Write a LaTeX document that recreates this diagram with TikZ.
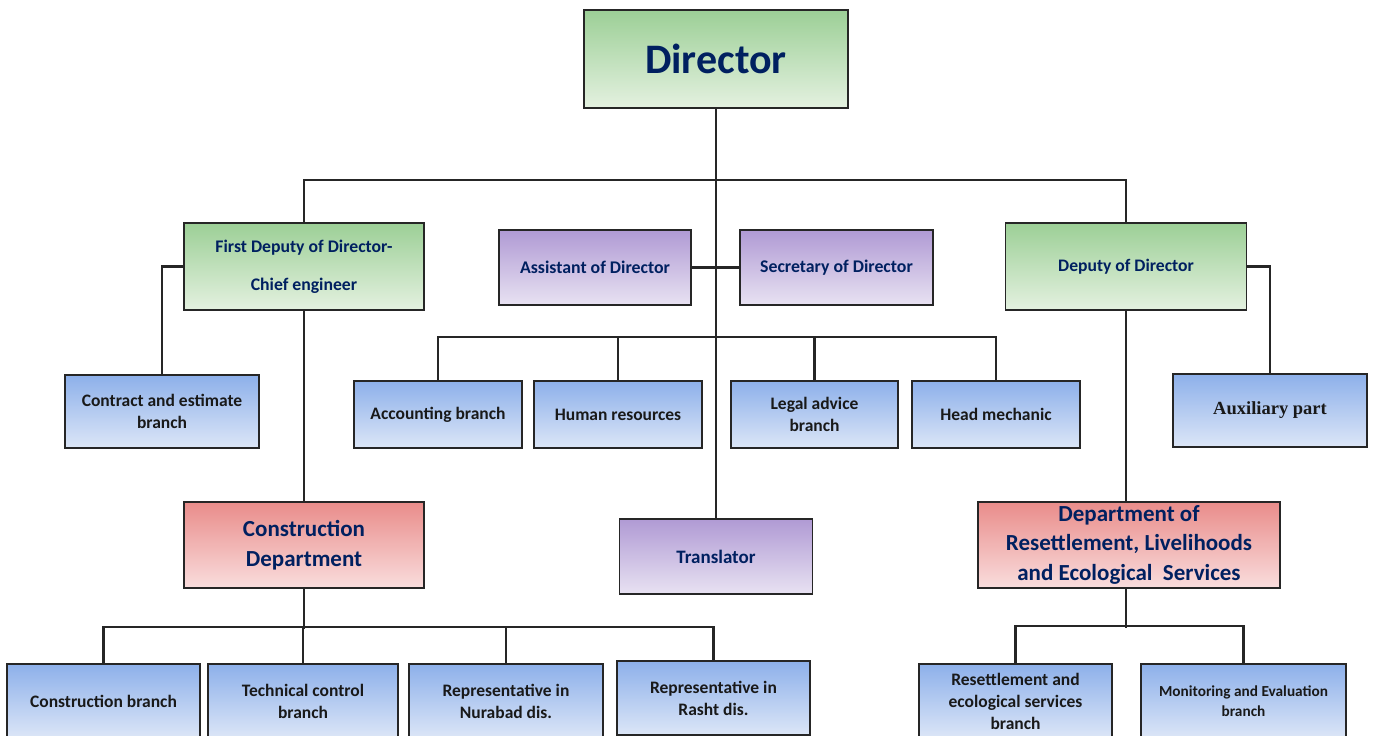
\documentclass[tikz,border=0pt]{standalone}
\usepackage{fontspec}
\setmainfont{Carlito}
\newfontfamily\auxfont{Liberation Serif}

\definecolor{navy}{HTML}{002060}
\definecolor{greentop}{HTML}{9CCF96}
\definecolor{greenbot}{HTML}{E4F1E0}
\definecolor{purpletop}{HTML}{B09AD4}
\definecolor{purplebot}{HTML}{E8E2F2}
\definecolor{bluetop}{HTML}{8DB0EA}
\definecolor{bluebot}{HTML}{DCE6F7}
\definecolor{redtop}{HTML}{E98C8A}
\definecolor{redbot}{HTML}{F9DDDD}

\tikzset{
  box/.style={draw=black!85, line width=1.8pt, align=center, inner sep=2pt},
  headbox/.style={box, top color=greentop, bottom color=greenbot, text=navy},
  officebox/.style={box, top color=purpletop, bottom color=purplebot, text=navy,
    minimum width=193, minimum height=75, font=\fontsize{17.8}{22}\selectfont\bfseries},
  deptbox/.style={box, top color=redtop, bottom color=redbot, text=navy,
    minimum height=86, font=\fontsize{23}{29.5}\selectfont\bfseries},
  branchbox/.style={box, top color=bluetop, bottom color=bluebot, text=black!90,
    minimum height=67, font=\fontsize{17.5}{22}\selectfont\bfseries},
  link/.style={line width=2.4pt, black!85}
}

\begin{document}
\begin{tikzpicture}[x=1pt,y=-1pt]
    \path[use as bounding box, clip] (0,0) rectangle (1374,736);

    % top level
    \node[headbox, minimum width=264, minimum height=98,
      font=\fontsize{42}{50}\selectfont\bfseries] (director) at (716,59) {Director};
    \node[headbox, minimum width=240, minimum height=87,
      font=\fontsize{17.7}{38}\selectfont\bfseries] (fdeputy) at (304,266.5) {First Deputy of Director-\\Chief engineer};
    \node[headbox, minimum width=241, minimum height=87,
      font=\fontsize{17.6}{22}\selectfont\bfseries] (deputy) at (1126,266.5) {Deputy of Director};
    \node[officebox, minimum width=192] (assistant) at (595,267.5) {Assistant of Director};
    \node[officebox] (secretary) at (836.5,267.5) {Secretary of Director};

    % middle row
    \node[branchbox, minimum width=194, minimum height=73] (contract) at (162,411.5) {Contract and estimate\\branch};
    \node[branchbox, minimum width=168] (accounting) at (438,414.5) {Accounting branch};
    \node[branchbox, minimum width=168] (hr) at (618,414.5) {Human resources};
    \node[branchbox, minimum width=167] (legal) at (814.5,414.5) {Legal advice\\branch};
    \node[branchbox, minimum width=168] (mechanic) at (996,414.5) {Head mechanic};
    \node[branchbox, minimum width=194, minimum height=73,
      font=\fontsize{18.5}{22}\selectfont\bfseries\auxfont] (auxiliary) at (1270,410.5) {Auxiliary part};

    % departments
    \node[deptbox, minimum width=240] (cdept) at (304,545) {Construction\\Department};
    \node[officebox, minimum width=193, font=\fontsize{19}{22}\selectfont\bfseries] (translator) at (716,556.5) {Translator};
    \node[deptbox, minimum width=302, text depth=4pt] (rdept) at (1129,545) {Department of\\Resettlement, Livelihoods\\and Ecological\ \ Services};

    % bottom row
    \node[branchbox, minimum width=193, minimum height=74] (cbranch) at (103.5,701) {Construction branch};
    \node[branchbox, minimum width=190, minimum height=74] (techbranch) at (303,701) {Technical control\\branch};
    \node[branchbox, minimum width=194, minimum height=74] (nurabad) at (506,701) {Representative in\\Nurabad dis.};
    \node[branchbox, minimum width=193, minimum height=74] (rasht) at (713.5,698) {Representative in\\Rasht dis.};
    \node[branchbox, minimum width=193, minimum height=74] (rebranch) at (1015.5,701) {Resettlement and\\ecological services\\branch};
    \node[branchbox, minimum width=205, minimum height=74,
      font=\fontsize{15.3}{20}\selectfont\bfseries] (monitor) at (1243.5,701) {Monitoring and Evaluation\\branch};

    % connectors
    \draw[link] (director.south) -- (translator.north);
    \draw[link] (fdeputy.north) -- ++(0,-42) -| (deputy.north);
    \draw[link] (assistant.east) -- (secretary.west);
    \draw[link] (fdeputy.west) -| (contract.north);
    \draw[link] (deputy.east) -| (auxiliary.north);
    \draw[link] (fdeputy.south) -- (cdept.north);
    \draw[link] (deputy.south) -- (deputy.south |- rdept.north);
    \draw[link] (accounting.north) -- ++(0,-43) -| (mechanic.north);
    \foreach \n in {hr,legal}
      \draw[link] (\n.north) -- ++(0,-43);
    \draw[link] (cdept.south) -- ++(0,40);
    \draw[link] (cbranch.north) -- ++(0,-36) -| (rasht.north);
    \foreach \n in {techbranch,nurabad}
      \draw[link] (\n.north) -- ++(0,-36);
    \draw[link] (rdept.south -| deputy.south) -- ++(0,39);
    \draw[link] (rebranch.north) -- ++(0,-37) -| (monitor.north);
\end{tikzpicture}
\end{document}
